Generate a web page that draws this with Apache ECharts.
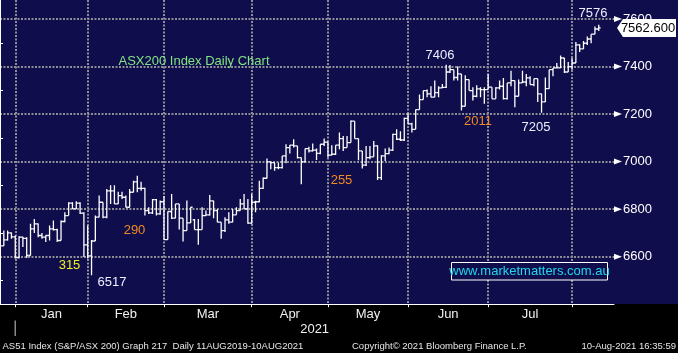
<!DOCTYPE html>
<html><head><meta charset="utf-8">
<script src="https://cdn.jsdelivr.net/npm/echarts@6/dist/echarts.min.js"></script>
<style>html,body{margin:0;padding:0;background:#000;}#c{width:678px;height:353px;}</style>
</head><body><div id="c"></div>
<script>
// ---- categories (trading days) ----
const dates = [
'2020-12-23','2020-12-24','2020-12-29','2020-12-30','2020-12-31',
'2021-01-04','2021-01-05','2021-01-06','2021-01-07','2021-01-08','2021-01-11','2021-01-12','2021-01-13','2021-01-14','2021-01-15','2021-01-18','2021-01-19','2021-01-20','2021-01-21','2021-01-22','2021-01-25','2021-01-27','2021-01-28','2021-01-29',
'2021-02-01','2021-02-02','2021-02-03','2021-02-04','2021-02-05','2021-02-08','2021-02-09','2021-02-10','2021-02-11','2021-02-12','2021-02-15','2021-02-16','2021-02-17','2021-02-18','2021-02-19','2021-02-22','2021-02-23','2021-02-24','2021-02-25','2021-02-26',
'2021-03-01','2021-03-02','2021-03-03','2021-03-04','2021-03-05','2021-03-08','2021-03-09','2021-03-10','2021-03-11','2021-03-12','2021-03-15','2021-03-16','2021-03-17','2021-03-18','2021-03-19','2021-03-22','2021-03-23','2021-03-24','2021-03-25','2021-03-26','2021-03-29','2021-03-30','2021-03-31',
'2021-04-01','2021-04-06','2021-04-07','2021-04-08','2021-04-09','2021-04-12','2021-04-13','2021-04-14','2021-04-15','2021-04-16','2021-04-19','2021-04-20','2021-04-21','2021-04-22','2021-04-23','2021-04-26','2021-04-27','2021-04-28','2021-04-29','2021-04-30',
'2021-05-03','2021-05-04','2021-05-05','2021-05-06','2021-05-07','2021-05-10','2021-05-11','2021-05-12','2021-05-13','2021-05-14','2021-05-17','2021-05-18','2021-05-19','2021-05-20','2021-05-21','2021-05-24','2021-05-25','2021-05-26','2021-05-27','2021-05-28','2021-05-31',
'2021-06-01','2021-06-02','2021-06-03','2021-06-04','2021-06-07','2021-06-08','2021-06-09','2021-06-10','2021-06-11','2021-06-15','2021-06-16','2021-06-17','2021-06-18','2021-06-21','2021-06-22','2021-06-23','2021-06-24','2021-06-25','2021-06-28','2021-06-29','2021-06-30',
'2021-07-01','2021-07-02','2021-07-05','2021-07-06','2021-07-07','2021-07-08','2021-07-09','2021-07-12','2021-07-13','2021-07-14','2021-07-15','2021-07-16','2021-07-19','2021-07-20','2021-07-21','2021-07-22','2021-07-23','2021-07-26','2021-07-27','2021-07-28','2021-07-29','2021-07-30',
'2021-08-02','2021-08-03','2021-08-04','2021-08-05','2021-08-06','2021-08-09','2021-08-10'
];
const futureDates = ['2021-08-11','2021-08-12','2021-08-13','2021-08-16'];

// ---- series values (OHLC) ----
const opens = [
6650,6645,6671,6700,6683,6596,6682,6677,6605,6717,
6738,6689,6682,6689,6717,6714,6668,6748,6773,6825,
6801,6825,6783,6650,6603,6666,6766,6829,6766,6877,
6877,6822,6857,6850,6808,6871,6915,6887,6887,6794,
6784,6840,6780,6831,6672,6790,6762,6822,6762,6710,
6742,6755,6714,6714,6773,6776,6835,6794,6745,6710,
6755,6745,6776,6794,6822,6801,6741,6829,6831,6887,
6930,6999,6996,6975,6975,7024,7059,7069,7066,7017,
6999,7055,7045,7048,7035,7073,7082,7027,7031,7069,
7097,7059,7080,7170,7097,7045,6985,7017,7020,7066,
6933,7024,7034,7048,7115,7094,7091,7182,7159,7136,
7219,7261,7299,7285,7271,7290,7310,7312,7377,7387,
7354,7369,7233,7345,7299,7275,7306,7303,7303,7313,
7264,7310,7317,7265,7331,7341,7275,7331,7335,7352,
7324,7349,7285,7251,7307,7387,7394,7394,7436,7377,
7400,7415,7491,7474,7498,7516,7536,7558
];
const highs = [
6662,6710,6710,6702,6689,6686,6684,6682,6738,6759,
6740,6700,6690,6731,6752,6717,6752,6787,6829,6829,
6833,6829,6787,6731,6670,6773,6857,6829,6885,6901,
6901,6873,6873,6857,6885,6919,6940,6915,6890,6808,
6843,6843,6836,6854,6790,6864,6822,6822,6762,6836,
6808,6759,6759,6808,6794,6859,6835,6801,6745,6766,
6787,6801,6808,6843,6864,6843,6864,6835,6919,6933,
7013,7000,6996,6996,7024,7073,7070,7094,7066,7017,
7055,7062,7076,7055,7073,7097,7082,7069,7069,7122,
7108,7108,7173,7170,7097,7045,7066,7066,7087,7069,
7027,7055,7059,7117,7136,7128,7185,7203,7164,7219,
7282,7299,7303,7317,7341,7317,7327,7408,7406,7387,
7400,7369,7363,7345,7313,7321,7313,7313,7369,7313,
7313,7341,7352,7331,7382,7341,7345,7382,7369,7359,
7349,7349,7285,7354,7387,7394,7415,7446,7436,7419,
7436,7503,7494,7508,7526,7536,7568,7576
];
const lows = [
6640,6645,6668,6675,6592,6592,6641,6594,6605,6700,
6682,6675,6662,6668,6710,6662,6668,6745,6773,6801,
6801,6780,6599,6592,6522,6666,6766,6762,6762,6822,
6822,6822,6843,6808,6808,6871,6871,6877,6773,6780,
6780,6773,6776,6672,6672,6759,6762,6714,6664,6710,
6742,6714,6650,6714,6773,6773,6762,6745,6675,6704,
6738,6745,6776,6794,6801,6738,6738,6787,6829,6885,
6929,6968,6961,6968,6971,6993,7034,7059,7013,6905,
6996,7038,7042,7007,7031,7066,7017,7027,7028,7052,
7045,7059,7080,7097,7006,6971,6982,7010,7020,6923,
6923,7003,7031,7045,7091,7087,7087,7159,7122,7136,
7219,7261,7271,7271,7271,7271,7310,7310,7373,7341,
7341,7215,7233,7299,7257,7271,7271,7243,7303,7264,
7264,7303,7261,7261,7317,7229,7275,7331,7317,7324,
7317,7251,7206,7251,7307,7359,7394,7394,7373,7377,
7387,7415,7461,7474,7491,7498,7536,7550
];
const closes = [
6645,6671,6700,6683,6596,6682,6677,6605,6717,6738,
6689,6682,6689,6717,6714,6668,6748,6773,6825,6801,
6825,6783,6650,6603,6666,6766,6829,6766,6877,6877,
6822,6857,6850,6808,6871,6915,6887,6887,6794,6784,
6840,6780,6831,6672,6790,6762,6822,6762,6710,6742,
6808,6714,6714,6773,6776,6835,6794,6745,6710,6755,
6745,6776,6794,6822,6801,6741,6829,6831,6887,6930,
6999,6996,6975,6975,7024,7059,7069,7066,7017,6999,
7055,7045,7048,7035,7073,7082,7027,7031,7069,7097,
7059,7080,7170,7097,7045,6985,7017,7020,7066,6933,
7024,7034,7048,7115,7094,7091,7182,7159,7136,7219,
7261,7299,7285,7271,7290,7310,7312,7377,7387,7354,
7369,7233,7345,7299,7275,7306,7303,7303,7313,7264,
7310,7317,7265,7331,7341,7275,7331,7335,7352,7324,
7349,7285,7251,7307,7387,7394,7394,7436,7377,7400,
7415,7491,7474,7498,7516,7536,7558,7562.6
];
const lastPriceText = '7562.600';

// ---- tick labels ----
const monthNames = ['Jan','Feb','Mar','Apr','May','Jun','Jul','Aug','Sep','Oct','Nov','Dec'];
const yearLabel = '2021';

// ---- annotations ----
const annoTexts = [
  {t:'ASX200 Index Daily Chart', x:194, y:61, c:'#80e480'},
  {t:'7576', x:593, y:13, c:'#eeeeff'},
  {t:'7406', x:440, y:55, c:'#eeeeff'},
  {t:'2011', x:478, y:121.5, c:'#f08a24'},
  {t:'7205', x:536, y:127, c:'#eeeeff'},
  {t:'255', x:341.5, y:180, c:'#f08a24'},
  {t:'290', x:134.5, y:230, c:'#f08a24'},
  {t:'315', x:69.5, y:265, c:'#f0f020'},
  {t:'6517', x:112, y:282, c:'#eeeeff'}
];

const FONT = "'Liberation Sans', Arial, sans-serif";
const NAVY = '#0f0d4b';
const allDates = dates.concat(futureDates);
const monthOf = d => +d.slice(5,7);

// month boundaries (last trading day of each month) and label midpoints
const boundaries = [];
for (let i = 0; i < allDates.length - 1; i++) {
  if (monthOf(allDates[i]) !== monthOf(allDates[i+1])) boundaries.push(i);
}
const boundarySet = new Set(boundaries);
const monthLabels = [];
for (let k = 0; k < boundaries.length - 1; k++) {
  monthLabels.push({ v: (boundaries[k] + boundaries[k+1]) / 2, name: monthNames[monthOf(allDates[boundaries[k] + 1]) - 1] });
}

const ohlc = dates.map((d, i) => [i, opens[i], highs[i], lows[i], closes[i]]);

const chart = echarts.init(document.getElementById('c'), null, {renderer: 'canvas'});
const gridDots = {color: '#8e8e96', width: 2, type: [2, 1.5]};

const Y_MIN = 6400, Y_MAX = 7680, Y_STEP = 200;
const option = {
  animation: false,
  backgroundColor: '#000',
  grid: {left: -2, right: 64, top: 0, bottom: 48.8, containLabel: false},
  xAxis: [{
    type: 'category', data: allDates, boundaryGap: false,
    axisLine: {show: true, lineStyle: {color: '#ffffff', width: 1}},
    axisTick: {show: true, length: 3, interval: (i) => boundarySet.has(i), lineStyle: {color: '#ffffff'}},
    axisLabel: {show: false},
    splitLine: {show: true, interval: (i) => boundarySet.has(i), lineStyle: gridDots}
  }, {
    type: 'value', min: 0, max: allDates.length - 1, position: 'bottom',
    axisLine: {show: false}, axisTick: {show: false}, splitLine: {show: false},
    axisLabel: {
      show: true, color: '#f0f0f0', fontSize: 13, fontFamily: FONT, margin: 4,
      customValues: monthLabels.map(m => m.v),
      formatter: (v) => { const m = monthLabels.find(o => Math.abs(o.v - v) < 0.01); return m ? m.name : ''; }
    }
  }],
  yAxis: {
    type: 'value', position: 'right', min: Y_MIN, max: Y_MAX, interval: Y_STEP,
    axisLine: {show: true, lineStyle: {color: '#ffffff', width: 1}},
    axisTick: {show: false},
    minorTick: {show: true, splitNumber: 2, length: 3, lineStyle: {color: '#ffffff'}},
    axisLabel: {color: '#ffffff', fontSize: 13, fontFamily: FONT, margin: 9,
      formatter: v => (v % Y_STEP !== 0 || v === Y_MIN) ? '' : String(v)},
    splitLine: {show: true, lineStyle: gridDots, showMinLine: false, showMaxLine: false}
  },
  series: [{
    type: 'custom', xAxisIndex: 0, yAxisIndex: 0, clip: true,
    encode: {x: 0, y: [1, 2, 3, 4]},
    data: ohlc,
    renderItem: function (params, api) {
      const x = api.value(0);
      const pO = api.coord([x, api.value(1)]);
      const pH = api.coord([x, api.value(2)]);
      const pL = api.coord([x, api.value(3)]);
      const pC = api.coord([x, api.value(4)]);
      const w = api.size([1, 0])[0] * 0.5;
      const st = {stroke: '#ffffff', lineWidth: 1.3};
      return {type: 'group', children: [
        {type: 'line', shape: {x1: pH[0], y1: pH[1], x2: pL[0], y2: pL[1]}, style: st},
        {type: 'line', shape: {x1: pO[0] - w, y1: pO[1], x2: pO[0], y2: pO[1]}, style: st},
        {type: 'line', shape: {x1: pC[0], y1: pC[1], x2: pC[0] + w, y2: pC[1]}, style: st}
      ]};
    }
  }]
};
chart.setOption(option);

// graphics (layout-only elements; price tag / tick arrows follow the y scale)
const yc = chart.convertToPixel({yAxisIndex: 0}, closes[closes.length - 1]);
const xr = chart.convertToPixel({xAxisIndex: 0}, allDates.length - 1);
const yearX0 = chart.convertToPixel({xAxisIndex: 0}, boundaries[0]);
const g = [
  {type: 'rect', z: -100, silent: true, shape: {x: 0, y: 0, width: 678, height: 304}, style: {fill: NAVY}},
  {type: 'line', z: 10, shape: {x1: yearX0, y1: 320.5, x2: yearX0, y2: 336}, style: {stroke: '#8a8a8a', lineWidth: 1.5}},
  {type: 'text', z: 10, x: (yearX0 + xr) / 2, y: 329, style: {text: yearLabel, fill: '#f0f0f0', font: '13px ' + FONT, align: 'center', verticalAlign: 'middle'}},
  {type: 'text', z: 10, x: 2.5, y: 346, style: {text: 'AS51 Index (S&P/ASX 200) Graph 217  Daily 11AUG2019-10AUG2021', fill: '#e6e6e6', font: '9.5px ' + FONT, align: 'left', verticalAlign: 'middle'}},
  {type: 'text', z: 10, x: 352, y: 346, style: {text: 'Copyright\u00A9 2021 Bloomberg Finance L.P.', fill: '#e6e6e6', font: '9.5px ' + FONT, align: 'left', verticalAlign: 'middle'}},
  {type: 'text', z: 10, x: 676, y: 346, style: {text: '10-Aug-2021 16:35:59', fill: '#e6e6e6', font: '9.5px ' + FONT, align: 'right', verticalAlign: 'middle'}},
  {type: 'rect', z: 10, shape: {x: 451.5, y: 262.5, width: 156, height: 17.5}, style: {fill: NAVY, stroke: '#ffffff', lineWidth: 1}},
  {type: 'text', z: 11, x: 529.5, y: 271.5, style: {text: 'www.marketmatters.com.au', fill: '#1fd8ee', font: '13px ' + FONT, align: 'center', verticalAlign: 'middle'}}
];
for (let v = Y_MIN + Y_STEP; v <= Y_MAX; v += Y_STEP) {
  const ty = chart.convertToPixel({yAxisIndex: 0}, v);
  g.push({type: 'polygon', z: 12, shape: {points: [[xr, ty - 3], [xr + 8, ty], [xr, ty + 3]]}, style: {fill: '#ffffff'}});
}
g.push({type: 'polygon', z: 20, shape: {points: [[xr + 3, yc], [xr + 9, yc - 9], [676, yc - 9], [676, yc + 9], [xr + 9, yc + 9]]}, style: {fill: '#ffffff'}});
g.push({type: 'text', z: 21, x: 648, y: yc + 0.5, style: {text: lastPriceText, fill: '#000000', font: '13px ' + FONT, align: 'center', verticalAlign: 'middle'}});
annoTexts.forEach(a => g.push({type: 'text', z: 15, x: a.x, y: a.y, style: {text: a.t, fill: a.c, font: '13px ' + FONT, align: 'center', verticalAlign: 'middle'}}));
chart.setOption({graphic: g});
</script>
</body></html>
